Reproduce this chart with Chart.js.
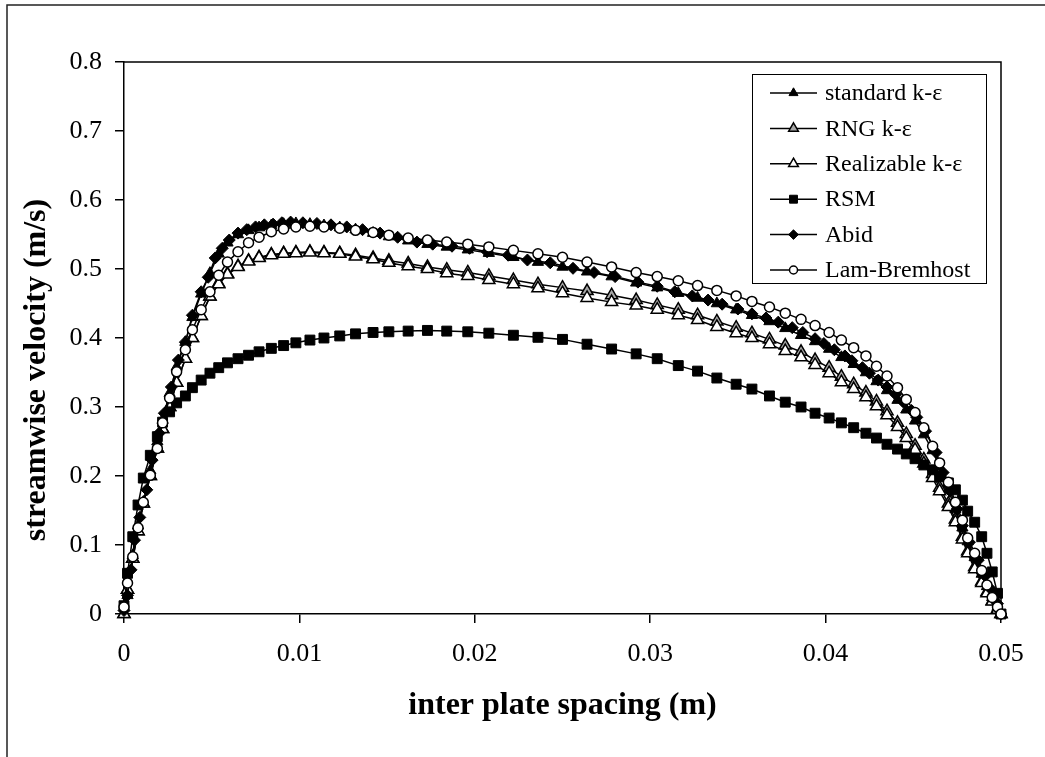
<!DOCTYPE html>
<html>
<head>
<meta charset="utf-8">
<script src="https://cdn.jsdelivr.net/npm/chart.js@4.4.1/dist/chart.umd.min.js"></script>
<style>
html,body{margin:0;padding:0;background:#fff;}
canvas{display:block;}
</style>
</head>
<body>
<canvas id="c" width="1045" height="757"></canvas>
<script>
// ---------- data ----------
const seriesLabels = ['standard k-\u03b5', 'RNG k-\u03b5', 'Realizable k-\u03b5', 'RSM', 'Abid', 'Lam-Bremhost'];

// grid positions shared by the CFD models (m)
const meshX = [0, 0.0002, 0.0005, 0.0008, 0.0011, 0.0015, 0.0019, 0.0022, 0.0026, 0.0030,
  0.0035, 0.0039, 0.0044, 0.0049, 0.0054, 0.0059, 0.0065, 0.0071, 0.0077, 0.0084,
  0.0091, 0.0098, 0.0106, 0.0114, 0.0123, 0.0132, 0.0142, 0.0151, 0.0162, 0.0173,
  0.0184, 0.0196, 0.0208, 0.0222, 0.0236, 0.0250, 0.0264, 0.0278, 0.0292, 0.0304,
  0.0316, 0.0327, 0.0338, 0.0349, 0.0358, 0.0368, 0.0377, 0.0386, 0.0394, 0.0402,
  0.0409, 0.0416, 0.0423, 0.0429, 0.0435, 0.0441, 0.0446, 0.0451, 0.0456, 0.0461,
  0.0465, 0.0470, 0.0474, 0.0478, 0.0481, 0.0485, 0.0489, 0.0492, 0.0495, 0.0498, 0.0500];

const standardKE = [0.000, 0.027, 0.085, 0.128, 0.160, 0.208, 0.250, 0.281, 0.320, 0.358,
  0.394, 0.430, 0.464, 0.494, 0.522, 0.538, 0.550, 0.556, 0.560, 0.563,
  0.565, 0.566, 0.565, 0.563, 0.560, 0.557, 0.552, 0.547, 0.541, 0.536,
  0.532, 0.528, 0.523, 0.517, 0.510, 0.503, 0.496, 0.489, 0.480, 0.473,
  0.465, 0.458, 0.450, 0.441, 0.433, 0.424, 0.414, 0.404, 0.395, 0.384,
  0.372, 0.362, 0.350, 0.337, 0.324, 0.310, 0.296, 0.280, 0.260, 0.237,
  0.213, 0.180, 0.152, 0.125, 0.105, 0.082, 0.058, 0.040, 0.024, 0.010, 0.000];

const rngKE = [0.000, 0.035, 0.080, 0.120, 0.160, 0.200, 0.240, 0.268, 0.300, 0.335,
  0.370, 0.400, 0.432, 0.460, 0.479, 0.493, 0.504, 0.512, 0.517, 0.521,
  0.523, 0.524, 0.525, 0.524, 0.523, 0.520, 0.516, 0.512, 0.508, 0.503,
  0.499, 0.495, 0.490, 0.484, 0.478, 0.473, 0.468, 0.462, 0.455, 0.448,
  0.441, 0.433, 0.424, 0.415, 0.407, 0.398, 0.389, 0.380, 0.368, 0.357,
  0.344, 0.333, 0.321, 0.308, 0.294, 0.277, 0.261, 0.244, 0.224, 0.203,
  0.183, 0.160, 0.137, 0.112, 0.091, 0.068, 0.047, 0.032, 0.019, 0.007, 0.000];

const realizableKE = [0.000, 0.035, 0.080, 0.120, 0.160, 0.200, 0.240, 0.268, 0.300, 0.335,
  0.370, 0.400, 0.432, 0.460, 0.478, 0.492, 0.503, 0.511, 0.516, 0.520,
  0.522, 0.523, 0.524, 0.523, 0.522, 0.518, 0.514, 0.509, 0.504, 0.500,
  0.494, 0.490, 0.484, 0.478, 0.472, 0.465, 0.458, 0.452, 0.447, 0.441,
  0.433, 0.426, 0.416, 0.407, 0.400, 0.391, 0.381, 0.372, 0.361, 0.349,
  0.336, 0.326, 0.314, 0.301, 0.288, 0.271, 0.255, 0.238, 0.218, 0.197,
  0.178, 0.155, 0.133, 0.108, 0.088, 0.065, 0.045, 0.030, 0.018, 0.006, 0.000];

const rsm = [0.012, 0.059, 0.112, 0.158, 0.197, 0.230, 0.257, 0.278, 0.293, 0.306,
  0.316, 0.328, 0.339, 0.349, 0.357, 0.364, 0.370, 0.375, 0.380, 0.385,
  0.389, 0.393, 0.397, 0.400, 0.403, 0.406, 0.408, 0.409, 0.410, 0.411,
  0.410, 0.409, 0.407, 0.404, 0.401, 0.398, 0.391, 0.384, 0.377, 0.370,
  0.360, 0.352, 0.342, 0.333, 0.326, 0.316, 0.307, 0.300, 0.291, 0.284,
  0.277, 0.270, 0.262, 0.255, 0.246, 0.239, 0.232, 0.225, 0.216, 0.209,
  0.199, 0.190, 0.180, 0.165, 0.149, 0.133, 0.112, 0.088, 0.061, 0.030, 0.000];

const lamBremhost = [0.010, 0.045, 0.083, 0.125, 0.162, 0.201, 0.240, 0.277, 0.313, 0.351,
  0.383, 0.412, 0.441, 0.467, 0.491, 0.510, 0.525, 0.538, 0.546, 0.554,
  0.558, 0.561, 0.562, 0.561, 0.559, 0.556, 0.553, 0.549, 0.545, 0.542,
  0.539, 0.536, 0.532, 0.527, 0.522, 0.517, 0.510, 0.503, 0.495, 0.489,
  0.483, 0.476, 0.469, 0.461, 0.453, 0.445, 0.436, 0.427, 0.418, 0.408,
  0.397, 0.386, 0.374, 0.359, 0.345, 0.328, 0.311, 0.292, 0.270, 0.243,
  0.219, 0.191, 0.162, 0.136, 0.110, 0.088, 0.063, 0.042, 0.024, 0.010, 0.000];

// Abid's own positions (m)
const abidX = [0, 0.0002, 0.0004, 0.0006, 0.0009, 0.0013, 0.0016, 0.0020, 0.0023, 0.0027,
  0.0031, 0.0035, 0.0039, 0.0044, 0.0048, 0.0052, 0.0056, 0.0060, 0.0065, 0.0070,
  0.0075, 0.0080, 0.0085, 0.0090, 0.0095, 0.0102, 0.0110, 0.0118, 0.0127, 0.0136,
  0.0146, 0.0156, 0.0167, 0.0176, 0.0187, 0.0197, 0.0207, 0.0219, 0.0230, 0.0243,
  0.0256, 0.0268, 0.0280, 0.0293, 0.0304, 0.0314, 0.0324, 0.0333, 0.0341, 0.0350,
  0.0358, 0.0366, 0.0373, 0.0381, 0.0387, 0.0394, 0.0399, 0.0405, 0.0411, 0.0415,
  0.0421, 0.0425, 0.0430, 0.0435, 0.0440, 0.0444, 0.0449, 0.0452, 0.0457, 0.0463,
  0.0467, 0.0471, 0.0475, 0.0478, 0.0482, 0.0487, 0.0491, 0.0495, 0.0498, 0.0500];

const abid = [0.005, 0.027, 0.064, 0.107, 0.140, 0.180, 0.223, 0.262, 0.291, 0.329,
  0.368, 0.394, 0.433, 0.467, 0.488, 0.516, 0.530, 0.542, 0.552, 0.557,
  0.561, 0.564, 0.565, 0.567, 0.568, 0.567, 0.566, 0.564, 0.561, 0.557,
  0.552, 0.546, 0.539, 0.536, 0.533, 0.530, 0.525, 0.520, 0.513, 0.509,
  0.501, 0.495, 0.489, 0.481, 0.475, 0.467, 0.461, 0.455, 0.449, 0.442,
  0.435, 0.429, 0.423, 0.415, 0.408, 0.399, 0.392, 0.383, 0.374, 0.367,
  0.357, 0.349, 0.339, 0.329, 0.318, 0.308, 0.295, 0.285, 0.265, 0.234,
  0.205, 0.178, 0.152, 0.128, 0.104, 0.078, 0.055, 0.034, 0.015, 0.000];

const xTickValues = [0, 0.01, 0.02, 0.03, 0.04, 0.05];
const xTickLabels = ['0', '0.01', '0.02', '0.03', '0.04', '0.05'];
const yTickValues = [0, 0.1, 0.2, 0.3, 0.4, 0.5, 0.6, 0.7, 0.8];
const yTickLabels = ['0', '0.1', '0.2', '0.3', '0.4', '0.5', '0.6', '0.7', '0.8'];
const xTitle = 'inter plate spacing (m)';
const yTitle = 'streamwise velocity (m/s)';

// ---------- chart ----------
const FONT = "'Liberation Serif', 'Times New Roman', serif";
Chart.defaults.font.family = FONT;
Chart.defaults.color = '#000';

function pts(xs, ys) { return xs.map((x, i) => ({ x: x, y: ys[i] })); }

function ds(label, xs, ys, style, radius, bg, bw, order) {
  return {
    label: label, data: pts(xs, ys), order: order,
    borderColor: '#000', borderWidth: 1.5, tension: 0, fill: false,
    pointStyle: style, pointRadius: radius, pointBackgroundColor: bg,
    pointBorderColor: '#000', pointBorderWidth: bw, clip: false
  };
}

const datasets = [
  ds(seriesLabels[0], meshX, standardKE, 'triangle', 6.5, '#000', 1, 6),
  ds(seriesLabels[1], meshX, rngKE, 'triangle', 7, '#a6a6a6', 1.5, 5),
  ds(seriesLabels[2], meshX, realizableKE, 'triangle', 7, '#fff', 1.5, 4),
  ds(seriesLabels[3], meshX, rsm, 'rect', 7, '#000', 1, 3),
  ds(seriesLabels[4], abidX, abid, 'rectRot', 6, '#000', 1, 2),
  ds(seriesLabels[5], meshX, lamBremhost, 'circle', 5, '#fff', 1.5, 1)
];

function drawMarker(ctx, style, x, y, r, fill, bw) {
  ctx.save();
  ctx.beginPath();
  if (style === 'triangle') {
    ctx.moveTo(x, y - r);
    ctx.lineTo(x + r * 0.866, y + r * 0.5);
    ctx.lineTo(x - r * 0.866, y + r * 0.5);
    ctx.closePath();
  } else if (style === 'rect') {
    const s = r * Math.SQRT1_2;
    ctx.rect(x - s, y - s, 2 * s, 2 * s);
  } else if (style === 'rectRot') {
    ctx.moveTo(x - r, y); ctx.lineTo(x, y - r); ctx.lineTo(x + r, y); ctx.lineTo(x, y + r);
    ctx.closePath();
  } else {
    ctx.arc(x, y, r, 0, Math.PI * 2);
  }
  ctx.fillStyle = fill; ctx.fill();
  ctx.lineWidth = bw; ctx.strokeStyle = '#000'; ctx.stroke();
  ctx.restore();
}

const decor = {
  id: 'decor',
  beforeDraw(chart) {
    const ctx = chart.ctx;
    ctx.save();
    ctx.fillStyle = '#fff';
    ctx.fillRect(0, 0, chart.width, chart.height);
    ctx.strokeStyle = '#222';
    ctx.lineWidth = 1.5;
    ctx.strokeRect(7, 5, chart.width + 30, chart.height + 30);
    ctx.restore();
  },
  beforeDatasetsDraw(chart) {
    const ctx = chart.ctx, a = chart.chartArea;
    ctx.save();
    ctx.strokeStyle = '#000';
    ctx.lineWidth = 1.5;
    ctx.beginPath();
    ctx.moveTo(a.left, a.top); ctx.lineTo(a.right, a.top); ctx.lineTo(a.right, a.bottom);
    ctx.stroke();
    ctx.restore();
  },
  afterDraw(chart) {
    const ctx = chart.ctx;
    // y axis title
    ctx.save();
    ctx.translate(37, 370);
    ctx.rotate(-Math.PI / 2);
    ctx.font = 'bold 32px ' + FONT;
    ctx.fillStyle = '#000';
    ctx.textAlign = 'center';
    ctx.textBaseline = 'middle';
    ctx.fillText(yTitle, 0, 0);
    ctx.restore();
    // legend
    const L = 752, T = 74, R = 986, B = 283;
    ctx.save();
    ctx.fillStyle = '#fff';
    ctx.fillRect(L, T, R - L, B - T);
    ctx.strokeStyle = '#000';
    ctx.lineWidth = 1;
    ctx.strokeRect(L + 0.5, T + 0.5, R - L, B - T);
    ctx.font = '24px ' + FONT;
    ctx.textBaseline = 'middle';
    ctx.textAlign = 'left';
    chart.data.datasets.forEach((d, i) => {
      const y = 93 + i * 35.4;
      ctx.strokeStyle = '#000';
      ctx.lineWidth = 1.5;
      ctx.beginPath(); ctx.moveTo(770, y); ctx.lineTo(817, y); ctx.stroke();
      drawMarker(ctx, d.pointStyle, 793.5, y, d.pointRadius * 0.8, d.pointBackgroundColor, d.pointBorderWidth);
      ctx.fillStyle = '#000';
      ctx.fillText(d.label, 825, y + 1);
    });
    ctx.restore();
  }
};

new Chart(document.getElementById('c'), {
  type: 'line',
  data: { datasets: datasets },
  plugins: [decor],
  options: {
    responsive: false, animation: false, devicePixelRatio: 1,
    layout: { padding: { left: 0, right: 44, top: 62, bottom: 0 } },
    plugins: { legend: { display: false }, tooltip: { enabled: false } },
    scales: {
      x: {
        type: 'linear', min: 0, max: 0.05,
        afterBuildTicks: s => { s.ticks = xTickValues.map(v => ({ value: v })); },
        afterFit: s => { s.height = 143; },
        ticks: { callback: (v, i) => xTickLabels[i], color: '#000', font: { size: 26 }, padding: 16, maxRotation: 0, autoSkip: false },
        grid: { display: true, drawOnChartArea: false, drawTicks: true, tickLength: 9, color: '#000', lineWidth: 1.5 },
        border: { display: true, color: '#000', width: 1.5 },
        title: { display: true, text: xTitle, color: '#000', font: { size: 32, weight: 'bold' }, padding: { top: 0, bottom: 32 } }
      },
      y: {
        type: 'linear', min: 0, max: 0.8,
        afterBuildTicks: s => { s.ticks = yTickValues.map(v => ({ value: v })); },
        afterFit: s => { s.width = 124; },
        ticks: { callback: (v, i) => yTickLabels[i], color: '#000', font: { size: 26 }, padding: 13, autoSkip: false },
        grid: { display: true, drawOnChartArea: false, drawTicks: true, tickLength: 9, color: '#000', lineWidth: 1.5 },
        border: { display: true, color: '#000', width: 1.5 },
        title: { display: false }
      }
    }
  }
});
</script>
</body>
</html>
